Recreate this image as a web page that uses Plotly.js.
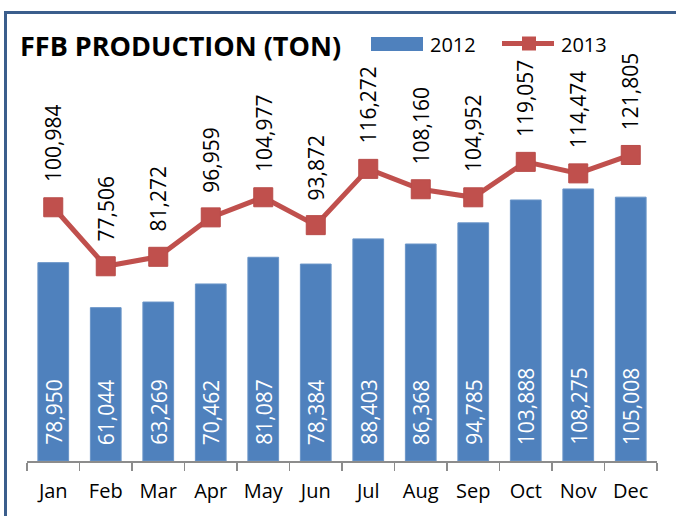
<!DOCTYPE html>
<html>
<head>
<meta charset="utf-8">
<script src="https://cdn.plot.ly/plotly-3.0.1.min.js"></script>
<style>html,body{margin:0;padding:0;background:#fff;}#chart{width:676px;height:516px;}</style>
</head>
<body>
<div id="chart"></div>
<script>
var months = ["Jan","Feb","Mar","Apr","May","Jun","Jul","Aug","Sep","Oct","Nov","Dec"];
var prod2012 = [78950, 61044, 63269, 70462, 81087, 78384, 88403, 86368, 94785, 103888, 108275, 105008];
var prod2013 = [100984, 77506, 81272, 96959, 104977, 93872, 116272, 108160, 104952, 119057, 114474, 121805];
var seriesNames = ["2012", "2013"];
var chartTitle = "FFB PRODUCTION (TON)";

var BLUE = "#4F81BD", RED = "#C0504D", FONT = "Open Sans, Lato, sans-serif";
var W = 676, H = 516, ML = 27, MR = 19, MT = 59, MB = 55;
var PW = W - ML - MR, PH = H - MT - MB;
function px(x){ return (x - ML) / PW; }
function py(y){ return (H - MB - y) / PH; }
function fmt(v){ return v.toLocaleString("en-US"); }

var traces = [
  {type: "bar", name: seriesNames[0], x: months, y: prod2012,
   marker: {color: BLUE, line: {color: "#6A95C8", width: 1}}, hoverinfo: "none"},
  {type: "scatter", mode: "lines+markers", name: seriesNames[1], x: months, y: prod2013,
   line: {color: RED, width: 5}, marker: {symbol: "square", size: 19, color: RED, line: {color: "#B84B48", width: 1}},
   hoverinfo: "none", cliponaxis: false}
];

var annotations = [];
months.forEach(function(m, i){
  annotations.push({x: m, y: prod2013[i], xref: "x", yref: "y", text: fmt(prod2013[i]), textangle: -90,
    showarrow: false, yanchor: "bottom", xanchor: "center", yshift: 24, borderpad: 0,
    font: {family: FONT, size: 21, color: "#000"}});
  annotations.push({x: m, y: 0, xref: "x", yref: "y", text: fmt(prod2012[i]), textangle: -90,
    showarrow: false, yanchor: "bottom", xanchor: "center", yshift: 15, borderpad: 0,
    font: {family: FONT, size: 21, color: "#fff"}});
});
annotations.push({x: px(428), y: py(44), xref: "paper", yref: "paper", text: seriesNames[0], showarrow: false,
  xanchor: "left", yanchor: "middle", font: {family: FONT, size: 20, color: "#000"}});
annotations.push({x: px(559), y: py(44), xref: "paper", yref: "paper", text: seriesNames[1], showarrow: false,
  xanchor: "left", yanchor: "middle", font: {family: FONT, size: 20, color: "#000"}});

var shapes = [
  {type: "path", xref: "paper", yref: "paper",
   path: "M " + px(5.5) + "," + py(530) + " L " + px(5.5) + "," + py(12.5) + " L " + px(690) + "," + py(12.5),
   line: {color: "#3B5E8C", width: 3}},
  {type: "rect", xref: "paper", yref: "paper", x0: px(371), x1: px(423), y0: py(51), y1: py(37),
   fillcolor: BLUE, line: {width: 0}},
  {type: "line", xref: "paper", yref: "paper", x0: px(502), x1: px(554), y0: py(43.5), y1: py(43.5),
   line: {color: RED, width: 5}},
  {type: "rect", xref: "paper", yref: "paper", x0: px(522), x1: px(536), y0: py(50.5), y1: py(36.5),
   fillcolor: RED, line: {width: 0}}
];

var layout = {
  width: W, height: H,
  margin: {l: ML, r: MR, t: MT, b: MB, pad: 0},
  paper_bgcolor: "#fff", plot_bgcolor: "#fff",
  showlegend: false,
  bargap: 0.415,
  title: {text: "<b>" + chartTitle + "</b>", x: 20 / W, xanchor: "left", xref: "container",
          y: 1 - 47 / H, yanchor: "middle", yref: "container",
          font: {family: FONT, size: 27, color: "#000"}},
  xaxis: {type: "category", range: [-0.5, months.length - 0.5], showgrid: false, zeroline: false,
          showline: true, linecolor: "#8C8C8C", linewidth: 1.5,
          ticks: "outside", tickson: "boundaries", ticklen: 8, tickcolor: "#8C8C8C", tickwidth: 1.5,
          tickangle: 0, automargin: false, ticklabelstandoff: 11,
          tickfont: {family: FONT, size: 20, color: "#000"}, fixedrange: true},
  yaxis: {range: [0, 160000], visible: false, showgrid: false, zeroline: false, fixedrange: true, automargin: false},
  annotations: annotations,
  shapes: shapes,
  font: {family: FONT}
};

Plotly.newPlot("chart", traces, layout, {displayModeBar: false, staticPlot: true});
</script>
</body>
</html>
